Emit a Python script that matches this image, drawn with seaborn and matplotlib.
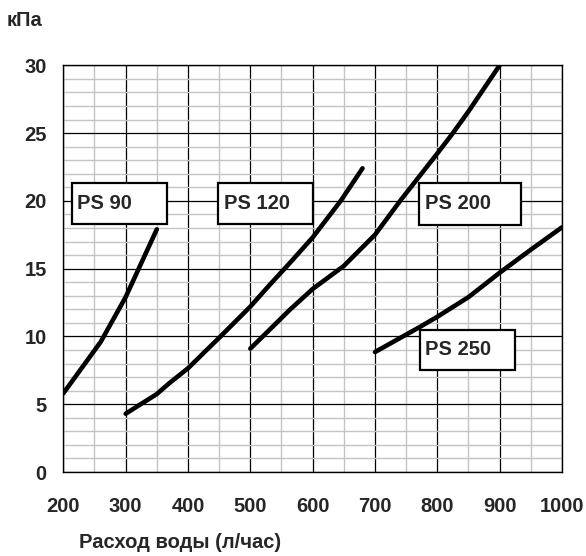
import pandas as pd
import matplotlib.pyplot as plt
import seaborn as sns
from matplotlib.patches import Rectangle
from matplotlib.ticker import MultipleLocator

sns.set_style("white")
plt.rcParams['font.family'] = ['Liberation Sans Narrow', 'Liberation Sans', 'DejaVu Sans']
plt.rcParams['font.weight'] = 'bold'

# flow (l/h) and pressure loss (kPa)
ps90_x = [200, 260, 300, 350]
ps90_y = [5.8, 9.6, 12.9, 17.9]

ps120_x = [300, 350, 370, 400, 450, 500, 531, 563, 600, 645, 680]
ps120_y = [4.3, 5.75, 6.55, 7.65, 9.9, 12.2, 13.8, 15.4, 17.3, 20.0, 22.4]

ps200_x = [500, 531, 563, 600, 650, 700, 742, 800, 825, 850, 900]
ps200_y = [9.1, 10.5, 11.95, 13.5, 15.2, 17.5, 20.1, 23.5, 25.0, 26.6, 30.0]

ps250_x = [700, 772, 800, 850, 900, 950, 1000]
ps250_y = [8.85, 10.7, 11.45, 12.9, 14.7, 16.4, 18.05]

names = ["PS 90", "PS 120", "PS 200", "PS 250"]

frames = []
for name, xs, ys in zip(names, [ps90_x, ps120_x, ps200_x, ps250_x],
                        [ps90_y, ps120_y, ps200_y, ps250_y]):
    frames.append(pd.DataFrame({"flow": xs, "kpa": ys, "model": name}))
data = pd.concat(frames, ignore_index=True)

fig = plt.figure(figsize=(5.86, 5.56), dpi=100)
ax = fig.add_axes([63.3 / 586, 1 - 472 / 556, (562 - 63.3) / 586, (472 - 65.3) / 556])

# grid first
ax.set_xlim(200, 1000)
ax.set_ylim(0, 30)
ax.xaxis.set_major_locator(MultipleLocator(100))
ax.xaxis.set_minor_locator(MultipleLocator(50))
ax.yaxis.set_major_locator(MultipleLocator(5))
ax.yaxis.set_minor_locator(MultipleLocator(1))
ax.grid(which='minor', color='#c4c4c4', linewidth=1.0)
ax.grid(which='major', color='black', linewidth=0.9)
ax.set_axisbelow(True)

sns.lineplot(data=data, x="flow", y="kpa", hue="model", units="model",
             estimator=None, sort=False, palette=["black"] * 4, linewidth=3.3,
             legend=False, ax=ax, solid_capstyle='round', solid_joinstyle='round')

# label boxes (data coords)
boxes = {
    "PS 90": (213.4, 18.27, 153.2, 3.03),
    "PS 120": (448.4, 18.27, 152.2, 3.03),
    "PS 200": (770.5, 18.2, 164.1, 3.1),
    "PS 250": (771.6, 7.52, 153.4, 2.98),
}
for name, (bx, by, bw, bh) in boxes.items():
    ax.add_patch(Rectangle((bx, by), bw, bh, facecolor='white', edgecolor='black',
                           linewidth=1.6, zorder=5))
    ax.text(bx + 9, by + bh / 2 + 0.05, name, fontsize=14.5, fontweight='bold',
            va='center', ha='left', zorder=6)

for s in ax.spines.values():
    s.set_color('black')
    s.set_linewidth(1.0)

ax.tick_params(which='major', direction='out', length=6, width=1, color='black',
               labelsize=14.5)
ax.tick_params(axis='x', which='major', pad=12)
ax.tick_params(axis='y', which='major', pad=6)
ax.tick_params(which='minor', length=0)
ax.set_xlabel("")
ax.set_ylabel("")

fig.text(79 / 586, 1 - 542 / 556, "Расход воды (л/час)", fontsize=14.5,
         fontweight='bold', ha='left', va='center')
fig.text(7 / 586, 1 - 21 / 556, "кПа", fontsize=14.5, fontweight='bold',
         ha='left', va='center')

fig.savefig("out.png", dpi=100)
